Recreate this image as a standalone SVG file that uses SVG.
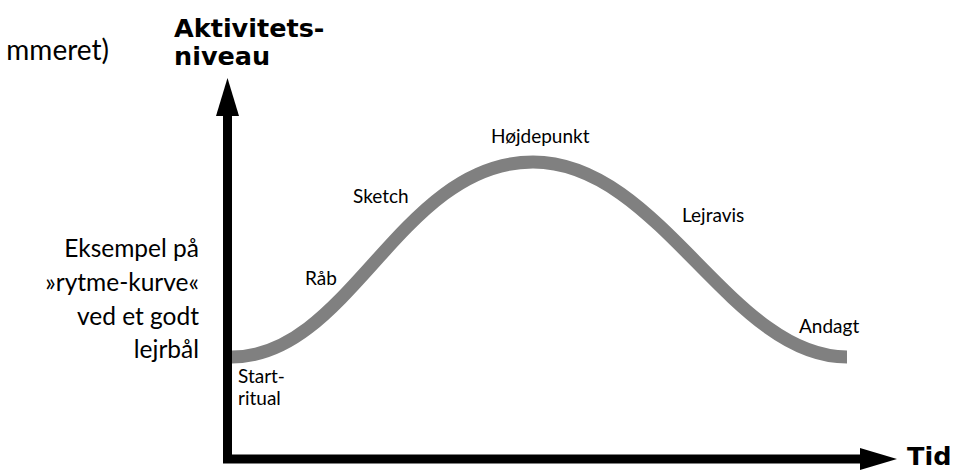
<svg xmlns="http://www.w3.org/2000/svg" width="966" height="470" viewBox="0 0 966 470">
<style>
.lbl{font-family:Lato,"Liberation Sans",sans-serif;font-size:19px;fill:#000}
.side{font-family:Lato,"Liberation Sans",sans-serif;font-size:24.5px;fill:#000}
.top{font-family:Lato,"Liberation Sans",sans-serif;font-size:28px;fill:#000}
.head{font-family:"DejaVu Sans","Liberation Sans",sans-serif;font-weight:bold;font-size:25.5px;fill:#000}
.axis{stroke:#000;stroke-width:9;fill:none}
.curve{stroke:#808080;stroke-width:13;fill:none}
</style>
<rect width="966" height="470" fill="#fff"/>
<g id="connectors">
<line class="axis" x1="227.5" y1="463" x2="227.5" y2="112"/>
<polygon points="227.5,78 216,116 239,116" fill="#000"/>
<line class="axis" x1="223" y1="459" x2="864" y2="459"/>
<polygon points="897,459 860,448 860,470" fill="#000"/>
<path class="curve" d="M232,357 C350,357 400,162 533,162 C660,162 730,357 847,357"/>
</g>
<g id="title-cut"><text class="top" x="109" y="60" text-anchor="end">mmeret)</text></g>
<g id="y-label"><text class="head" x="174" y="37">Aktivitets-</text><text class="head" x="174" y="65">niveau</text></g>
<g id="x-label"><text class="head" x="907" y="465">Tid</text></g>
<g id="caption">
<text class="side" x="199" y="257" text-anchor="end">Eksempel på</text>
<text class="side" x="199" y="291" text-anchor="end">»rytme-kurve«</text>
<text class="side" x="199" y="324.5" text-anchor="end">ved et godt</text>
<text class="side" x="199" y="358" text-anchor="end">lejrbål</text>
</g>
<g id="start"><text class="lbl" x="238" y="383">Start-</text><text class="lbl" x="238" y="405">ritual</text></g>
<g id="raab"><text class="lbl" x="305" y="285">Råb</text></g>
<g id="sketch"><text class="lbl" x="353" y="203">Sketch</text></g>
<g id="hoejdepunkt"><text class="lbl" x="491" y="143">Højdepunkt</text></g>
<g id="lejravis"><text class="lbl" x="682" y="222">Lejravis</text></g>
<g id="andagt"><text class="lbl" x="799" y="333">Andagt</text></g>
</svg>
